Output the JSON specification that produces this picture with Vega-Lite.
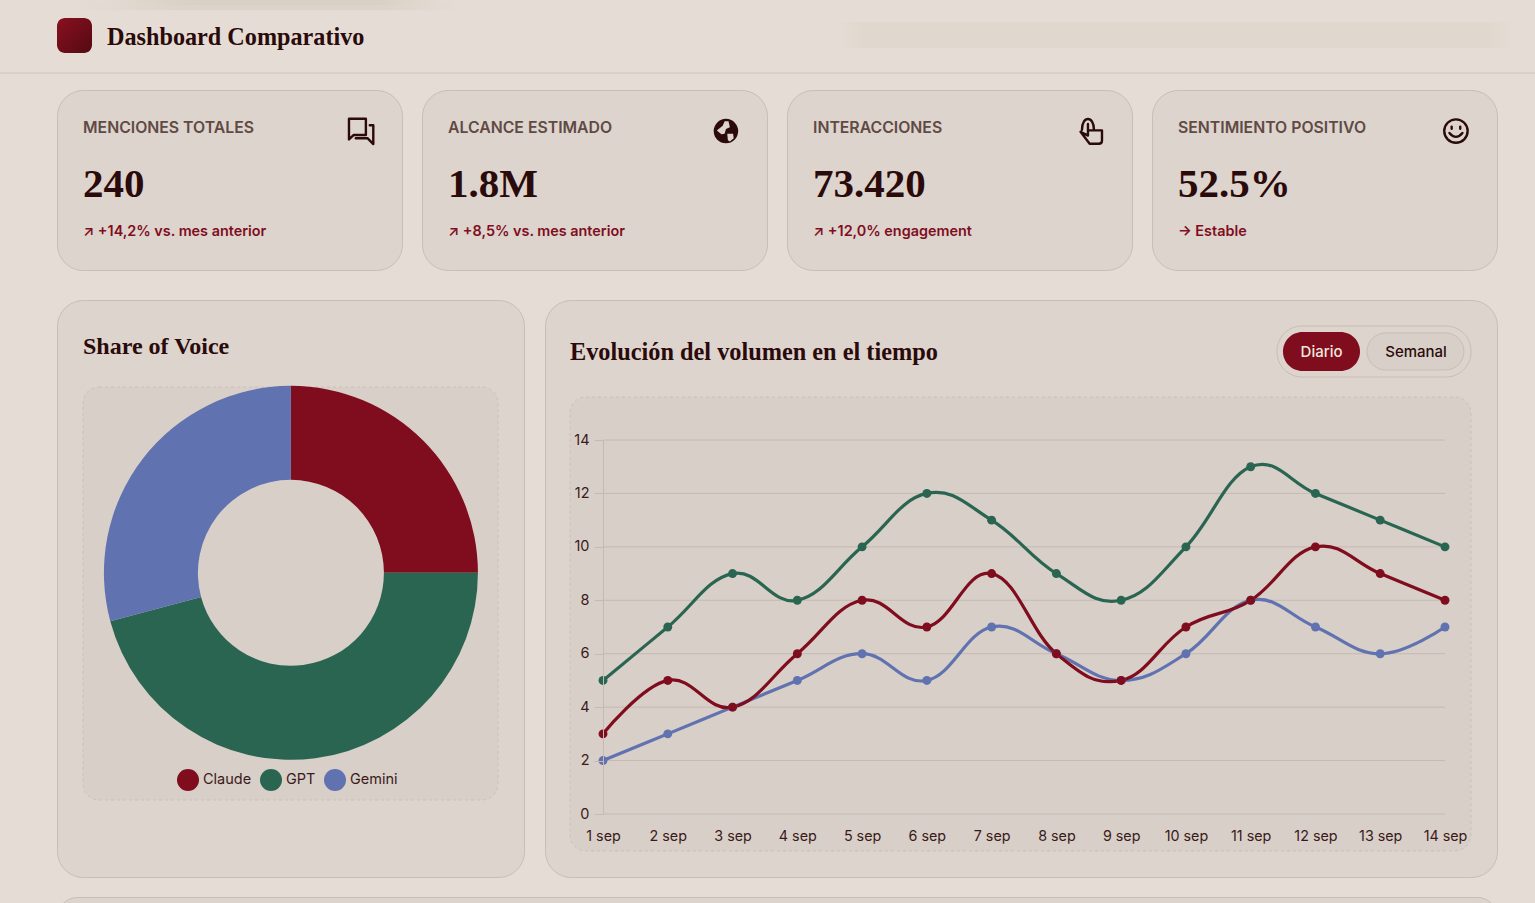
{
  "$schema": "https://vega.github.io/schema/vega-lite/v6.json",
  "background": "#e5ddd5",
  "padding": {"left": -1, "top": 0, "right": 0, "bottom": 0},
  "autosize": {"type": "pad", "resize": false},
  "config": {
    "view": {"stroke": null},
    "font": "Inter",
    "legend": {"labelFont": "Inter", "labelFontSize": 14.5, "labelColor": "#3a1a1a"}
  },
  "datasets": {
    "kpis": [
      {"label": "MENCIONES TOTALES", "valor": "240", "cambio": "↗ +14,2% vs. mes anterior"},
      {"label": "ALCANCE ESTIMADO", "valor": "1.8M", "cambio": "↗ +8,5% vs. mes anterior"},
      {"label": "INTERACCIONES", "valor": "73.420", "cambio": "↗ +12,0% engagement"},
      {"label": "SENTIMIENTO POSITIVO", "valor": "52.5%", "cambio": "→ Estable"}
    ],
    "share": [
      {"marca": "Claude", "menciones": 60, "orden": 1},
      {"marca": "GPT", "menciones": 110, "orden": 2},
      {"marca": "Gemini", "menciones": 70, "orden": 3}
    ],
    "volumen": [
      {"fecha": "1 sep", "marca": "Gemini", "menciones": 2},
      {"fecha": "2 sep", "marca": "Gemini", "menciones": 3},
      {"fecha": "3 sep", "marca": "Gemini", "menciones": 4},
      {"fecha": "4 sep", "marca": "Gemini", "menciones": 5},
      {"fecha": "5 sep", "marca": "Gemini", "menciones": 6},
      {"fecha": "6 sep", "marca": "Gemini", "menciones": 5},
      {"fecha": "7 sep", "marca": "Gemini", "menciones": 7},
      {"fecha": "8 sep", "marca": "Gemini", "menciones": 6},
      {"fecha": "9 sep", "marca": "Gemini", "menciones": 5},
      {"fecha": "10 sep", "marca": "Gemini", "menciones": 6},
      {"fecha": "11 sep", "marca": "Gemini", "menciones": 8},
      {"fecha": "12 sep", "marca": "Gemini", "menciones": 7},
      {"fecha": "13 sep", "marca": "Gemini", "menciones": 6},
      {"fecha": "14 sep", "marca": "Gemini", "menciones": 7},
      {"fecha": "1 sep", "marca": "GPT", "menciones": 5},
      {"fecha": "2 sep", "marca": "GPT", "menciones": 7},
      {"fecha": "3 sep", "marca": "GPT", "menciones": 9},
      {"fecha": "4 sep", "marca": "GPT", "menciones": 8},
      {"fecha": "5 sep", "marca": "GPT", "menciones": 10},
      {"fecha": "6 sep", "marca": "GPT", "menciones": 12},
      {"fecha": "7 sep", "marca": "GPT", "menciones": 11},
      {"fecha": "8 sep", "marca": "GPT", "menciones": 9},
      {"fecha": "9 sep", "marca": "GPT", "menciones": 8},
      {"fecha": "10 sep", "marca": "GPT", "menciones": 10},
      {"fecha": "11 sep", "marca": "GPT", "menciones": 13},
      {"fecha": "12 sep", "marca": "GPT", "menciones": 12},
      {"fecha": "13 sep", "marca": "GPT", "menciones": 11},
      {"fecha": "14 sep", "marca": "GPT", "menciones": 10},
      {"fecha": "1 sep", "marca": "Claude", "menciones": 3},
      {"fecha": "2 sep", "marca": "Claude", "menciones": 5},
      {"fecha": "3 sep", "marca": "Claude", "menciones": 4},
      {"fecha": "4 sep", "marca": "Claude", "menciones": 6},
      {"fecha": "5 sep", "marca": "Claude", "menciones": 8},
      {"fecha": "6 sep", "marca": "Claude", "menciones": 7},
      {"fecha": "7 sep", "marca": "Claude", "menciones": 9},
      {"fecha": "8 sep", "marca": "Claude", "menciones": 6},
      {"fecha": "9 sep", "marca": "Claude", "menciones": 5},
      {"fecha": "10 sep", "marca": "Claude", "menciones": 7},
      {"fecha": "11 sep", "marca": "Claude", "menciones": 8},
      {"fecha": "12 sep", "marca": "Claude", "menciones": 10},
      {"fecha": "13 sep", "marca": "Claude", "menciones": 9},
      {"fecha": "14 sep", "marca": "Claude", "menciones": 8}
    ],
    "ticks": [{"tick": 0}, {"tick": 2}, {"tick": 4}, {"tick": 6}, {"tick": 8}, {"tick": 10}, {"tick": 12}, {"tick": 14}]
  },
  "spacing": 18,
  "vconcat": [
    {
      "spacing": 28,
      "vconcat": [
        {
          "spacing": 15,
          "vconcat": [
            {
              "width": 1536,
              "height": 73,
              "data": {"values": [{"titulo": "Dashboard Comparativo"}]},
              "encoding": {
                "x": {"datum": 0, "type": "quantitative", "axis": null, "scale": {"domain": [0, 1], "range": [0, 1536]}},
                "y": {"datum": 0, "type": "quantitative", "axis": null, "scale": {"domain": [0, 1], "range": [0, 73]}}
              },
              "layer": [
                {"mark": {"type": "rect", "fill": {"gradient": "linear", "x1": 0, "y1": 0, "x2": 1, "y2": 0, "stops": [{"offset": 0, "color": "#e5ddd5"}, {"offset": 0.3, "color": "#d6cdc3"}, {"offset": 0.8, "color": "#d6cdc3"}, {"offset": 1, "color": "#e5ddd5"}]}, "opacity": 0.6},
                 "encoding": {"x": {"datum": 0.045, "type": "quantitative"}, "x2": {"datum": 0.3}, "y": {"datum": 0, "type": "quantitative"}, "y2": {"datum": 0.14}}},
                {"mark": {"type": "rect", "fill": {"gradient": "linear", "x1": 0, "y1": 0, "x2": 1, "y2": 0, "stops": [{"offset": 0, "color": "#e5ddd5"}, {"offset": 0.3, "color": "#d6cdc3"}, {"offset": 0.8, "color": "#d6cdc3"}, {"offset": 1, "color": "#e5ddd5"}]}, "opacity": 0.6},
                 "encoding": {"x": {"datum": 0.06, "type": "quantitative"}, "x2": {"datum": 0.29}, "y": {"datum": 0, "type": "quantitative"}, "y2": {"datum": 0.07}}},
                {"mark": {"type": "rect", "fill": {"gradient": "linear", "x1": 0, "y1": 0, "x2": 1, "y2": 0, "stops": [{"offset": 0, "color": "#e5ddd5"}, {"offset": 0.04, "color": "#e0d7ce"}, {"offset": 0.96, "color": "#e0d7ce"}, {"offset": 1, "color": "#e5ddd5"}]}},
                 "encoding": {"x": {"datum": 0.545, "type": "quantitative"}, "x2": {"datum": 0.985}, "y": {"datum": 0.3, "type": "quantitative"}, "y2": {"datum": 0.66}}},
                {"mark": {"type": "rule", "stroke": "#cfc3b9", "strokeWidth": 1},
                 "encoding": {"x": {"datum": 0, "type": "quantitative"}, "x2": {"datum": 1}, "y": {"datum": 1, "type": "quantitative"}}},
                {"mark": {"type": "rect", "cornerRadius": 8, "fill": {"gradient": "linear", "x1": 0, "y1": 0, "x2": 1, "y2": 1, "stops": [{"offset": 0, "color": "#8a1020"}, {"offset": 1, "color": "#540a12"}]}},
                 "encoding": {"x": {"datum": 0.0371, "type": "quantitative"}, "x2": {"datum": 0.0599}, "y": {"datum": 0.2466, "type": "quantitative"}, "y2": {"datum": 0.726}}},
                {"mark": {"type": "text", "align": "left", "baseline": "middle", "font": "Liberation Serif", "fontWeight": "bold", "fontSize": 24.2, "color": "#2a0a0a"},
                 "encoding": {"text": {"field": "titulo"}, "x": {"datum": 0.0697, "type": "quantitative"}, "y": {"datum": 0.52, "type": "quantitative"}}}
              ]
            },
            {
              "spacing": 19,
              "hconcat": [
                {"width": 37, "height": 1, "data": {"values": [{"elemento": "margen"}]}, "mark": {"type": "rule", "opacity": 0}, "encoding": {}},
                {
                  "data": {"name": "kpis"},
                  "spacing": {"column": 18},
                  "facet": {
                    "column": {
                      "field": "label",
                      "type": "nominal",
                      "header": null,
                      "sort": ["MENCIONES TOTALES", "ALCANCE ESTIMADO", "INTERACCIONES", "SENTIMIENTO POSITIVO"]
                    }
                  },
                  "spec": {
                    "width": 345,
                    "height": 180,
                    "view": {"fill": "#ddd4cd", "stroke": "#cbbdb1", "cornerRadius": 26},
                    "encoding": {
                      "x": {"datum": 0.0754, "type": "quantitative", "axis": null, "scale": {"domain": [0, 1], "range": [0, 345]}},
                      "y": {"datum": 0.211, "type": "quantitative", "axis": null, "scale": {"domain": [0, 1], "range": [0, 180]}}
                    },
                    "layer": [
                      {"mark": {"type": "text", "align": "left", "baseline": "middle", "fontSize": 15.8, "fontWeight": 600, "color": "#5f4a44"},
                       "encoding": {"text": {"field": "label"}}},
                      {"mark": {"type": "text", "align": "left", "baseline": "middle", "font": "Liberation Serif", "fontWeight": "bold", "fontSize": 41, "color": "#2a0a0a"},
                       "encoding": {"text": {"field": "valor"}, "y": {"datum": 0.528, "type": "quantitative"}}},
                      {"mark": {"type": "text", "align": "left", "baseline": "middle", "fontSize": 14.4, "fontWeight": 600, "color": "#7f0d1e"},
                       "encoding": {"text": {"field": "cambio"}, "y": {"datum": 0.789, "type": "quantitative"}}},
                      {"mark": {"type": "point", "size": 676, "opacity": 1, "strokeWidth": 2.4, "strokeCap": "round", "strokeJoin": "round", "stroke": "#2a0a0a"},
                       "encoding": {
                         "x": {"datum": 0.881, "type": "quantitative"},
                         "y": {"datum": 0.228, "type": "quantitative"},
                         "fill": {"condition": {"test": "datum.label == 'ALCANCE ESTIMADO'", "value": "#2a0a0a"}, "value": "transparent"},
                         "shape": {
                           "field": "label",
                           "type": "nominal",
                           "legend": null,
                           "scale": {
                             "domain": ["MENCIONES TOTALES", "ALCANCE ESTIMADO", "INTERACCIONES", "SENTIMIENTO POSITIVO"],
                             "range": [
                               "M -0.92 -0.95 H 0.38 V 0.3 H -0.55 L -0.92 0.65 Z M 0.68 -0.45 H 0.95 V 1 L 0.5 0.55 H -0.4",
                               "M -0.85 0 A 0.85 0.85 0 1 1 0.85 0 A 0.85 0.85 0 1 1 -0.85 0 Z",
                               "M -0.69 -0.1 C -0.69 -1.2 0.23 -1.2 0.23 -0.1 M -0.23 -0.55 V 0.35 L -0.8 0.05 L -0.1 0.98 H 0.6 Q 0.85 0.98 0.85 0.75 V -0.05 H -0.23",
                               "M -0.9 0 A 0.9 0.9 0 1 1 0.9 0 A 0.9 0.9 0 1 1 -0.9 0 Z M -0.5 0.15 Q 0 0.75 0.5 0.15 M -0.33 -0.34 V -0.18 M 0.33 -0.34 V -0.18"
                             ]
                           }
                         }
                       }},
                      {"transform": [{"filter": "datum.label == 'ALCANCE ESTIMADO'"}],
                       "mark": {"type": "point", "size": 676, "opacity": 1, "filled": true, "color": "#ddd4cd", "shape": "M -0.7 -0.05 L -0.25 -0.4 L -0.1 -0.75 L 0.2 -0.75 L 0.3 -0.3 L 0 -0.15 L -0.1 0.2 L -0.35 0.25 Z M 0.1 0.2 L 0.55 0.2 L 0.6 0.55 L 0.3 0.8 L 0.15 0.7 Z"},
                       "encoding": {"x": {"datum": 0.881, "type": "quantitative"}, "y": {"datum": 0.228, "type": "quantitative"}}}
                    ]
                  }
                }
              ]
            }
          ]
        },
        {
          "spacing": 19,
          "resolve": {"scale": {"color": "independent"}, "legend": {"color": "independent"}},
          "hconcat": [
            {"width": 37, "height": 1, "data": {"values": [{"elemento": "margen"}]}, "mark": {"type": "rule", "opacity": 0}, "encoding": {}},
            {
              "width": 467,
              "height": 577,
              "view": {"fill": "#ddd4cd", "stroke": "#cbbdb1", "cornerRadius": 26},
              "encoding": {
                "x": {"datum": 0, "type": "quantitative", "axis": null, "scale": {"domain": [0, 1], "range": [26, 441]}},
                "y": {"datum": 0, "type": "quantitative", "axis": null, "scale": {"domain": [0, 1], "range": [87, 500]}}
              },
              "layer": [
                {"data": {"values": [{"elemento": "panel"}]},
                 "mark": {"type": "rect", "fill": "#d8cfc8", "stroke": "#c9bcb0", "strokeWidth": 0.8, "strokeDash": [3, 3], "cornerRadius": 16},
                 "encoding": {"x2": {"datum": 1}, "y2": {"datum": 1}}},
                {"data": {"values": [{"titulo": "Share of Voice"}]},
                 "mark": {"type": "text", "align": "left", "baseline": "middle", "font": "Liberation Serif", "fontWeight": "bold", "fontSize": 24, "color": "#2a0a0a"},
                 "encoding": {"text": {"field": "titulo"}, "y": {"datum": -0.097, "type": "quantitative"}}},
                {"data": {"name": "share"},
                 "mark": {"type": "arc", "innerRadius": 93, "outerRadius": 187},
                 "encoding": {
                   "x": {"datum": 0.501, "type": "quantitative"},
                   "y": {"datum": 0.45, "type": "quantitative"},
                   "theta": {"field": "menciones", "type": "quantitative", "stack": true},
                   "order": {"field": "orden"},
                   "color": {
                     "field": "marca",
                     "type": "nominal",
                     "scale": {"domain": ["Claude", "GPT", "Gemini"], "range": ["#7f0d1e", "#2a6552", "#6072b0"]},
                     "legend": {"title": null, "orient": "none", "direction": "horizontal", "legendX": 120, "legendY": 469, "symbolType": "circle", "symbolSize": 484, "symbolStrokeWidth": 0, "labelOffset": 4, "columnPadding": 8, "padding": 0, "zindex": 1}
                   }
                 }}
              ]
            },
            {
              "width": 952,
              "height": 577,
              "view": {"fill": "#ddd4cd", "stroke": "#cbbdb1", "cornerRadius": 26},
              "resolve": {"scale": {"x": "independent", "y": "independent"}, "axis": {"x": "independent", "y": "independent"}},
              "layer": [
                {
                  "encoding": {
                    "x": {"datum": 0, "type": "quantitative", "axis": null, "scale": {"domain": [0, 1], "range": [25, 926]}},
                    "y": {"datum": 0, "type": "quantitative", "axis": null, "scale": {"domain": [0, 1], "range": [97, 551]}}
                  },
                  "layer": [
                    {"data": {"values": [{"elemento": "panel"}]},
                     "mark": {"type": "rect", "fill": "#d8cfc8", "stroke": "#c9bcb0", "strokeWidth": 0.8, "strokeDash": [3, 3], "cornerRadius": 16},
                     "encoding": {"x2": {"datum": 1}, "y2": {"datum": 1}}},
                    {"data": {"values": [{"titulo": "Evolución del volumen en el tiempo"}]},
                     "mark": {"type": "text", "align": "left", "baseline": "middle", "font": "Liberation Serif", "fontWeight": "bold", "fontSize": 24.3, "color": "#2a0a0a"},
                     "encoding": {"text": {"field": "titulo"}, "y": {"datum": -0.097, "type": "quantitative"}}},
                    {"data": {"values": [{"elemento": "selector"}]},
                     "mark": {"type": "rect", "fill": "#ddd4cd", "stroke": "#cbbdb1", "cornerRadius": 25},
                     "encoding": {"x": {"datum": 0.7847, "type": "quantitative"}, "x2": {"datum": 1}, "y": {"datum": -0.1564, "type": "quantitative"}, "y2": {"datum": -0.0441}}},
                    {"data": {"values": [{"elemento": "Diario"}]},
                     "mark": {"type": "rect", "fill": "#7f0d1e", "cornerRadius": 19.5},
                     "encoding": {"x": {"datum": 0.7913, "type": "quantitative"}, "x2": {"datum": 0.8768}, "y": {"datum": -0.1432, "type": "quantitative"}, "y2": {"datum": -0.0573}}},
                    {"data": {"values": [{"elemento": "Semanal"}]},
                     "mark": {"type": "rect", "fill": "#d8cfc8", "stroke": "#cbbdb1", "cornerRadius": 18.5},
                     "encoding": {"x": {"datum": 0.8846, "type": "quantitative"}, "x2": {"datum": 0.9922}, "y": {"datum": -0.141, "type": "quantitative"}, "y2": {"datum": -0.0595}}},
                    {"data": {"values": [{"elemento": "Diario"}]},
                     "mark": {"type": "text", "align": "center", "baseline": "middle", "fontSize": 15, "fontWeight": 500, "color": "#efe6df"},
                     "encoding": {"text": {"field": "elemento"}, "x": {"datum": 0.8341, "type": "quantitative"}, "y": {"datum": -0.1002, "type": "quantitative"}}},
                    {"data": {"values": [{"elemento": "Semanal"}]},
                     "mark": {"type": "text", "align": "center", "baseline": "middle", "fontSize": 15, "fontWeight": 500, "color": "#2a0a0a"},
                     "encoding": {"text": {"field": "elemento"}, "x": {"datum": 0.939, "type": "quantitative"}, "y": {"datum": -0.1002, "type": "quantitative"}}}
                  ]
                },
                {
                  "encoding": {
                    "x": {
                      "field": "fecha",
                      "type": "ordinal",
                      "title": null,
                      "sort": null,
                      "scale": {"type": "point", "padding": 0, "range": [58, 900], "domain": ["1 sep", "2 sep", "3 sep", "4 sep", "5 sep", "6 sep", "7 sep", "8 sep", "9 sep", "10 sep", "11 sep", "12 sep", "13 sep", "14 sep"]},
                      "axis": {"orient": "bottom", "offset": -63, "domain": false, "ticks": false, "labelAngle": 0, "labelPadding": 15, "labelFontSize": 14.3, "labelColor": "#3a1a1a", "labelFont": "Inter", "labelOverlap": false, "labelFlush": false, "zindex": 1}
                    },
                    "y": {
                      "field": "menciones",
                      "type": "quantitative",
                      "title": null,
                      "scale": {"domain": [0, 14], "range": [514, 140], "nice": false},
                      "axis": {"orient": "left", "offset": -58, "values": [0, 2, 4, 6, 8, 10, 12, 14], "grid": false, "domainColor": "#c4bab3", "tickColor": "#c4bab3", "tickSize": 9, "labelPadding": 5, "labelFontSize": 14.5, "labelColor": "#3a1a1a", "labelFont": "Inter", "zindex": 1}
                    }
                  },
                  "layer": [
                    {"data": {"name": "ticks"},
                     "mark": {"type": "rule", "stroke": "#c4bab3", "strokeWidth": 1},
                     "encoding": {"x": {"datum": "1 sep", "type": "ordinal"}, "x2": {"datum": "14 sep"}, "y": {"field": "tick", "type": "quantitative"}}},
                    {"data": {"name": "volumen"},
                     "mark": {"type": "line", "interpolate": "cardinal", "tension": -0.2, "strokeWidth": 3.2},
                     "encoding": {"color": {"field": "marca", "type": "nominal", "legend": null, "scale": {"domain": ["Claude", "GPT", "Gemini"], "range": ["#7f0d1e", "#2a6552", "#6072b0"]}}}},
                    {"data": {"name": "volumen"},
                     "mark": {"type": "point", "filled": true, "opacity": 1, "size": 80},
                     "encoding": {"color": {
                       "field": "marca",
                       "type": "nominal",
                       "scale": {"domain": ["Claude", "GPT", "Gemini"], "range": ["#7f0d1e", "#2a6552", "#6072b0"]},
                       "legend": {"title": null, "orient": "none", "direction": "horizontal", "legendX": 359, "legendY": 109, "symbolType": "circle", "symbolSize": 484, "symbolStrokeWidth": 0, "labelOffset": 4, "columnPadding": 8, "padding": 0, "zindex": 1}
                     }}}
                  ]
                }
              ]
            }
          ]
        }
      ]
    },
    {
      "spacing": 19,
      "hconcat": [
        {"width": 37, "height": 1, "data": {"values": [{"elemento": "margen"}]}, "mark": {"type": "rule", "opacity": 0}, "encoding": {}},
        {"width": 1440, "height": 40, "data": {"values": [{"elemento": "siguiente tarjeta"}]}, "view": {"fill": "#ddd4cd", "stroke": "#cbbdb1", "cornerRadius": 26}, "mark": {"type": "rule", "opacity": 0}, "encoding": {}}
      ]
    }
  ]
}
